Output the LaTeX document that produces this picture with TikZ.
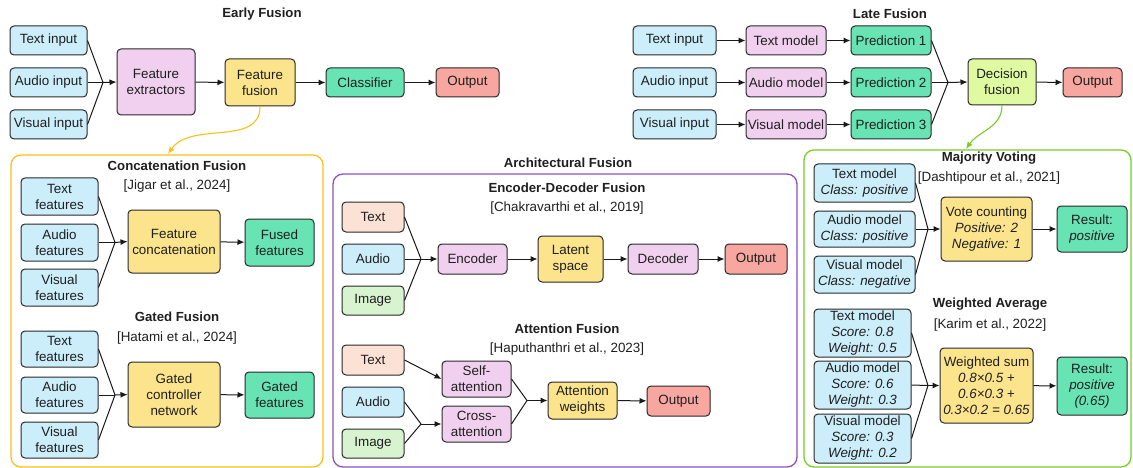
\documentclass[tikz,border=0pt]{standalone}
\usepackage{fontspec}
\setmainfont{Liberation Sans}
\usetikzlibrary{arrows.meta}
\definecolor{cblue}{RGB}{204,237,250}
\definecolor{cpink}{RGB}{240,208,238}
\definecolor{cyel}{RGB}{252,228,140}
\definecolor{cgreen}{RGB}{104,228,180}
\definecolor{cred}{RGB}{248,166,160}
\definecolor{clime}{RGB}{224,250,162}
\definecolor{cpeach}{RGB}{252,226,212}
\definecolor{cmint}{RGB}{216,243,208}
\definecolor{boxline}{RGB}{40,40,40}
\definecolor{corange}{RGB}{248,192,24}
\definecolor{cpurple}{RGB}{142,80,190}
\definecolor{clgreen}{RGB}{120,204,40}
\tikzset{
  box/.style={draw=boxline, rounded corners=4pt, line width=1pt, align=center,
    inner sep=1pt, text=black!88, font=\fontsize{13.4}{16}\selectfont},
  sz/.style 2 args={minimum width=#1pt, minimum height=#2pt},
  head/.style={text=black!88, font=\bfseries\fontsize{13.2}{16}\selectfont},
  cite/.style={text=black!88, font=\fontsize{13.4}{16}\selectfont},
  feed/.style={line width=1pt, draw=black!90},
  link/.style={line width=1pt, draw=black!90, -{Latex[length=7pt,width=6pt]}},
  panel/.style={rounded corners=10pt, line width=1.3pt},
}
\begin{document}
\begin{tikzpicture}[x=1pt, y=-1pt]
  \useasboundingbox (0,0) rectangle (1133,468);
  % early fusion
  \node[head] (earlyT) at (262,14) {Early Fusion};
  \node[box, fill=cblue, sz={77}{29}] (tin) at (48.5,40.5) {Text input};
  \node[box, fill=cblue, sz={77}{29}] (ain) at (48.5,82.5) {Audio input};
  \node[box, fill=cblue, sz={77}{29}] (vin) at (48.5,124.5) {Visual input};
  \node[box, fill=cpink, sz={78}{66}] (fext) at (156,82) {Feature\\extractors};
  \node[box, fill=cyel, sz={70}{47}] (ffus) at (260,82.5) {Feature\\fusion};
  \node[box, fill=cgreen, sz={78}{29}] (clf) at (365,82.5) {Classifier};
  \node[box, fill=cred, sz={63}{29}] (out1) at (467.5,82.5) {Output};
  \coordinate (m1) at (103,82.5);
  \begin{scope}
    \draw[feed] (tin.east) -- (m1);
    \draw[feed] (ain.east) -- (m1);
    \draw[feed] (vin.east) -- (m1);
    \draw[link] (m1) -- (fext.west);
    \draw[link] (fext) -- (ffus);
    \draw[link] (ffus) -- (clf);
    \draw[link] (clf) -- (out1);
  \end{scope}

  % late fusion
  \node[head] (lateT) at (890,14) {Late Fusion};
  \node[box, fill=cblue, sz={83}{29}] (ltin) at (674.5,40.5) {Text input};
  \node[box, fill=cblue, sz={83}{29}] (lain) at (674.5,82.5) {Audio input};
  \node[box, fill=cblue, sz={83}{29}] (lvin) at (674.5,124.5) {Visual input};
  \node[box, fill=cpink, sz={80}{29}] (ltm) at (786,40.5) {Text model};
  \node[box, fill=cpink, sz={80}{29}] (lam) at (786,82.5) {Audio model};
  \node[box, fill=cpink, sz={80}{29}] (lvm) at (786,124.5) {Visual model};
  \node[box, fill=cgreen, sz={80}{29}] (lp1) at (891,40.5) {Prediction 1};
  \node[box, fill=cgreen, sz={80}{29}] (lp2) at (891,82.5) {Prediction 2};
  \node[box, fill=cgreen, sz={80}{29}] (lp3) at (891,124.5) {Prediction 3};
  \node[box, fill=clime, sz={68}{46}] (dfus) at (1002,82) {Decision\\fusion};
  \node[box, fill=cred, sz={59}{29}] (out2) at (1092.5,82.5) {Output};
  \coordinate (m2) at (948,82.5);
  \begin{scope}
    \draw[link] (ltin) -- (ltm);
    \draw[link] (lain) -- (lam);
    \draw[link] (lvin) -- (lvm);
    \draw[link] (ltm) -- (lp1);
    \draw[link] (lam) -- (lp2);
    \draw[link] (lvm) -- (lp3);
    \draw[feed] (lp1.east) -- (m2);
    \draw[feed] (lp2.east) -- (m2);
    \draw[feed] (lp3.east) -- (m2);
    \draw[link] (m2) -- (dfus.west);
    \draw[link] (dfus) -- (out2);
  \end{scope}

  % concatenation / gated
  \draw[panel, draw=corange] (11,155) rectangle (323,467);
  \coordinate (ctip) at (168,154);
  \draw[line width=1.1pt, draw=corange, -{Latex[length=7pt,width=6pt]}] (ffus.south) to[out=-90, in=55] (ctip);
  \node[head] (catT) at (177,166) {Concatenation Fusion};
  \node[cite] (catC) at (177,186) {[Jigar et al., 2024]};
  \node[box, fill=cblue, sz={77}{37}] (cf1) at (59.5,196.5) {Text\\features};
  \node[box, fill=cblue, sz={77}{37}] (cf2) at (59.5,242.5) {Audio\\features};
  \node[box, fill=cblue, sz={77}{37}] (cf3) at (59.5,287.5) {Visual\\features};
  \node[box, fill=cyel, sz={92}{63}] (fcat) at (174,241.5) {Feature\\concatenation};
  \node[box, fill=cgreen, sz={69}{47}] (fused) at (279.5,242.5) {Fused\\features};
  \coordinate (m3) at (115,242.5);
  \node[head] (gateT) at (177,317) {Gated Fusion};
  \node[cite] (gateC) at (177,338) {[Hatami et al., 2024]};
  \node[box, fill=cblue, sz={77}{36}] (gf1) at (59.5,349) {Text\\features};
  \node[box, fill=cblue, sz={77}{36}] (gf2) at (59.5,395) {Audio\\features};
  \node[box, fill=cblue, sz={77}{36}] (gf3) at (59.5,440) {Visual\\features};
  \node[box, fill=cyel, sz={92}{65}] (gcn) at (174,394.5) {Gated\\controller\\network};
  \node[box, fill=cgreen, sz={69}{46}] (gated) at (279.5,395) {Gated\\features};
  \coordinate (m4) at (115,395);
  \begin{scope}
    \draw[feed] (cf1.east) -- (m3);
    \draw[feed] (cf2.east) -- (m3);
    \draw[feed] (cf3.east) -- (m3);
    \draw[link] (m3) -- (fcat.west);
    \draw[link] (fcat) -- (fused);
    \draw[feed] (gf1.east) -- (m4);
    \draw[feed] (gf2.east) -- (m4);
    \draw[feed] (gf3.east) -- (m4);
    \draw[link] (m4) -- (gcn.west);
    \draw[link] (gcn) -- (gated);
  \end{scope}

  % architectural fusion
  \node[head] (archT) at (568,163) {Architectural Fusion};
  \draw[panel, draw=cpurple] (333,174) rectangle (797,467);
  \node[head] (encT) at (567,188) {Encoder-Decoder Fusion};
  \node[cite] (encC) at (567,208) {[Chakravarthi et al., 2019]};
  \node[box, fill=cpeach, sz={62}{30}] (et) at (373,217) {Text};
  \node[box, fill=cblue, sz={62}{30}] (ea) at (373,259) {Audio};
  \node[box, fill=cmint, sz={62}{29}] (ei) at (373,300.5) {Image};
  \node[box, fill=cpink, sz={69}{30}] (enc) at (472.5,259) {Encoder};
  \node[box, fill=cyel, sz={65}{46}] (lat) at (570.5,259) {Latent\\space};
  \node[box, fill=cpink, sz={70}{30}] (dec) at (663,259) {Decoder};
  \node[box, fill=cred, sz={62}{30}] (out3) at (756,259) {Output};
  \coordinate (m5) at (421,259);
  \node[head] (attT) at (567,329) {Attention Fusion};
  \node[cite] (attC) at (567,349) {[Haputhanthri et al., 2023]};
  \node[box, fill=cpeach, sz={62}{30}] (at) at (373,360) {Text};
  \node[box, fill=cblue, sz={62}{30}] (aa) at (373,402) {Audio};
  \node[box, fill=cmint, sz={62}{29}] (ai) at (373,443.5) {Image};
  \node[box, fill=cpink, sz={69}{36}] (self) at (476.5,379) {Self-\\attention};
  \node[box, fill=cpink, sz={69}{36}] (cross) at (476.5,424) {Cross-\\attention};
  \node[box, fill=cyel, sz={69}{37}] (aw) at (582.5,400.5) {Attention\\weights};
  \node[box, fill=cred, sz={63}{30}] (out4) at (678.5,401) {Output};
  \coordinate (m6) at (421,424);
  \coordinate (m7) at (527,400.5);
  \begin{scope}
    \draw[feed] (et.east) -- (m5);
    \draw[feed] (ea.east) -- (m5);
    \draw[feed] (ei.east) -- (m5);
    \draw[link] (m5) -- (enc.west);
    \draw[link] (enc) -- (lat);
    \draw[link] (lat) -- (dec);
    \draw[link] (dec) -- (out3);
    \draw[link] (at.east) -- (self.west);
    \draw[feed] (aa.east) -- (m6);
    \draw[feed] (ai.east) -- (m6);
    \draw[link] (m6) -- (cross.west);
    \draw[feed] (self.east) -- (m7);
    \draw[feed] (cross.east) -- (m7);
    \draw[link] (m7) -- (aw.west);
    \draw[link] (aw) -- (out4);
  \end{scope}

  % majority voting / weighted average
  \draw[panel, draw=clgreen] (804,150) rectangle (1131,467);
  \coordinate (gtip) at (966,149);
  \draw[line width=1.1pt, draw=clgreen, -{Latex[length=7pt,width=6pt]}] (dfus.south) to[out=-90, in=55] (gtip);
  \node[head] (voteT) at (989,158) {Majority Voting};
  \node[cite] (voteC) at (989,178) {[Dashtipour et al., 2021]};
  \node[box, fill=cblue, sz={101}{38}] (mt) at (864.5,183) {Text model\\\textit{Class: positive}};
  \node[box, fill=cblue, sz={101}{36}] (ma) at (864.5,229) {Audio model\\\textit{Class: positive}};
  \node[box, fill=cblue, sz={101}{37}] (mv) at (864.5,274.5) {Visual model\\\textit{Class: negative}};
  \node[box, fill=cyel, sz={91}{64}] (vote) at (986.5,229) {Vote counting\\\textit{Positive: 2}\\\textit{Negative: 1}};
  \node[box, fill=cgreen, sz={70}{46}] (res1) at (1092,229) {Result:\\\textit{positive}};
  \coordinate (m8) at (928,229);
  \node[head] (waT) at (990,304) {Weighted Average};
  \node[cite] (waC) at (990,325) {[Karim et al., 2022]};
  \node[box, fill=cblue, sz={97}{48}] (wt) at (862.5,333) {Text model\\\textit{Score: 0.8}\\\textit{Weight: 0.5}};
  \node[box, fill=cblue, sz={97}{48}] (wa) at (862.5,385) {Audio model\\\textit{Score: 0.6}\\\textit{Weight: 0.3}};
  \node[box, fill=cblue, sz={97}{49}] (wv) at (862.5,438.5) {Visual model\\\textit{Score: 0.3}\\\textit{Weight: 0.2}};
  \node[box, fill=cyel, sz={93}{75}] (wsum) at (986.5,385.5) {Weighted sum\\\textit{0.8×0.5 +}\\\textit{0.6×0.3 +}\\\textit{0.3×0.2 = 0.65}};
  \node[box, fill=cgreen, sz={70}{58}] (res2) at (1092,386) {Result:\\\textit{positive}\\\textit{(0.65)}};
  \coordinate (m9) at (928,385.5);
  \begin{scope}
    \draw[feed] (mt.east) -- (m8);
    \draw[feed] (ma.east) -- (m8);
    \draw[feed] (mv.east) -- (m8);
    \draw[link] (m8) -- (vote.west);
    \draw[link] (vote) -- (res1);
    \draw[feed] (wt.east) -- (m9);
    \draw[feed] (wa.east) -- (m9);
    \draw[feed] (wv.east) -- (m9);
    \draw[link] (m9) -- (wsum.west);
    \draw[link] (wsum) -- (res2);
  \end{scope}
\end{tikzpicture}
\end{document}
